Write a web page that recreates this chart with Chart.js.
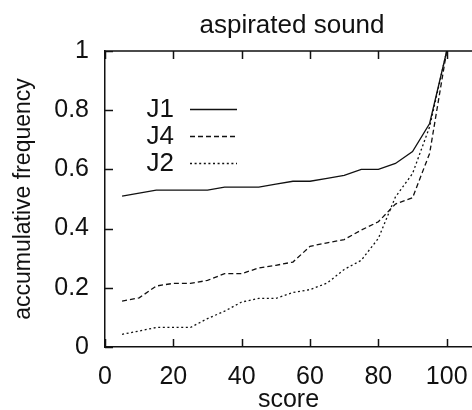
<!DOCTYPE html>
<html>
<head>
<meta charset="utf-8">
<script src="https://cdn.jsdelivr.net/npm/chart.js@4"></script>
<style>
  html, body { margin: 0; padding: 0; background: #fff; overflow: hidden; }
  #wrap { width: 472px; height: 410px; }
</style>
</head>
<body>
<div id="wrap"><canvas id="chart" width="472" height="410"></canvas></div>
<script>
// data
const scores = [5, 10, 15, 20, 25, 30, 35, 40, 45, 50, 55, 60, 65, 70, 75, 80, 85, 90, 95, 100];
const j1 = [0.51, 0.52, 0.53, 0.53, 0.53, 0.53, 0.54, 0.54, 0.54, 0.55, 0.56, 0.56, 0.57, 0.58, 0.60, 0.60, 0.62, 0.66, 0.755, 1.0];
const j4 = [0.155, 0.166, 0.206, 0.215, 0.215, 0.225, 0.248, 0.248, 0.267, 0.276, 0.287, 0.34, 0.352, 0.363, 0.395, 0.423, 0.483, 0.504, 0.654, 1.0];
const j2 = [0.043, 0.054, 0.066, 0.066, 0.066, 0.096, 0.121, 0.152, 0.164, 0.164, 0.184, 0.194, 0.216, 0.262, 0.293, 0.367, 0.507, 0.586, 0.744, 1.0];
const xTicks = [0, 20, 40, 60, 80, 100];
const yTicks = [0, 0.2, 0.4, 0.6, 0.8, 1];

const FONT = 'Liberation Sans, Arial, Helvetica, sans-serif';
const INK = '#111';

function pts(vals) {
    return scores.map((s, i) => ({ x: s, y: vals[i] }));
}

const series = [
    { label: 'J1', data: pts(j1), dash: [] },
    { label: 'J4', data: pts(j4), dash: [5, 3] },
    { label: 'J2', data: pts(j2), dash: [2, 2.6] }
];

// gnuplot style: title, inside ticks, top border, key with line samples
const framePlugin = {
    id: 'frame',
    afterDraw(chart) {
        const c = chart.ctx;
        const a = chart.chartArea;
        const xs = chart.scales.x, ys = chart.scales.y;
        c.save();
        c.strokeStyle = INK;
        c.lineWidth = 1.5;
        c.beginPath();
        c.moveTo(a.left, a.top);
        c.lineTo(a.right + 2, a.top);
        xTicks.forEach(v => {
            const px = Math.round(xs.getPixelForValue(v)) + 0.5;
            c.moveTo(px, a.bottom);
            c.lineTo(px, a.bottom - 8);
            c.moveTo(px, a.top);
            c.lineTo(px, a.top + 8);
        });
        yTicks.forEach(v => {
            const py = Math.round(ys.getPixelForValue(v)) + 0.5;
            c.moveTo(a.left, py);
            c.lineTo(a.left + 8, py);
        });
        c.stroke();

        // title
        c.fillStyle = INK;
        c.font = '26px ' + FONT;
        c.textAlign = 'center';
        c.textBaseline = 'alphabetic';
        c.fillText('aspirated sound', 292, 33);

        // key
        c.textAlign = 'right';
        c.textBaseline = 'middle';
        chart.data.datasets.forEach((ds, i) => {
            const y = 109 + i * 27;
            c.fillText(ds.label, 174, y + 1);
            c.beginPath();
            c.setLineDash(ds.borderDash || []);
            c.lineWidth = 1.3;
            c.moveTo(190, y + 0.5);
            c.lineTo(237, y + 0.5);
            c.stroke();
        });
        c.restore();
    }
};

const ctx = document.getElementById('chart').getContext('2d');

new Chart(ctx, {
    type: 'line',
    data: {
        datasets: series.map(s => ({
            label: s.label,
            data: s.data,
            borderColor: INK,
            borderWidth: 1.3,
            borderDash: s.dash,
            pointRadius: 0,
            tension: 0,
            fill: false
        }))
    },
    options: {
        responsive: false,
        animation: false,
        layout: { padding: { top: 51, right: 0, bottom: 0, left: 0 } },
        plugins: {
            legend: { display: false },
            tooltip: { enabled: false }
        },
        scales: {
            x: {
                type: 'linear',
                min: 0,
                max: 107.4,
                afterBuildTicks: s => { s.ticks = xTicks.map(v => ({ value: v })); },
                afterFit: s => { s.height = 63; s.paddingLeft = 0; s.paddingRight = 0; },
                grid: { display: false, drawTicks: false },
                border: { display: true, color: INK, width: 1.5 },
                ticks: { color: INK, font: { family: FONT, size: 25 }, padding: 15, maxRotation: 0 },
                title: {
                    display: true, text: 'score', color: INK,
                    font: { family: FONT, size: 25, lineHeight: 0.8 },
                    padding: 0
                }
            },
            y: {
                min: 0,
                max: 1,
                afterBuildTicks: s => { s.ticks = yTicks.map(v => ({ value: v })); },
                afterFit: s => { s.width = 105; s.paddingTop = 0; s.paddingBottom = 0; },
                grid: { display: false, drawTicks: false },
                border: { display: true, color: INK, width: 1.5 },
                ticks: {
                    color: INK, font: { family: FONT, size: 25 }, padding: 16,
                    callback: v => String(Math.round(v * 10) / 10)
                },
                title: {
                    display: true, text: 'accumulative frequency', color: INK,
                    font: { family: FONT, size: 23, lineHeight: 1.2 },
                    padding: { top: 10, bottom: 0 }
                }
            }
        }
    },
    plugins: [framePlugin]
});
</script>
</body>
</html>
